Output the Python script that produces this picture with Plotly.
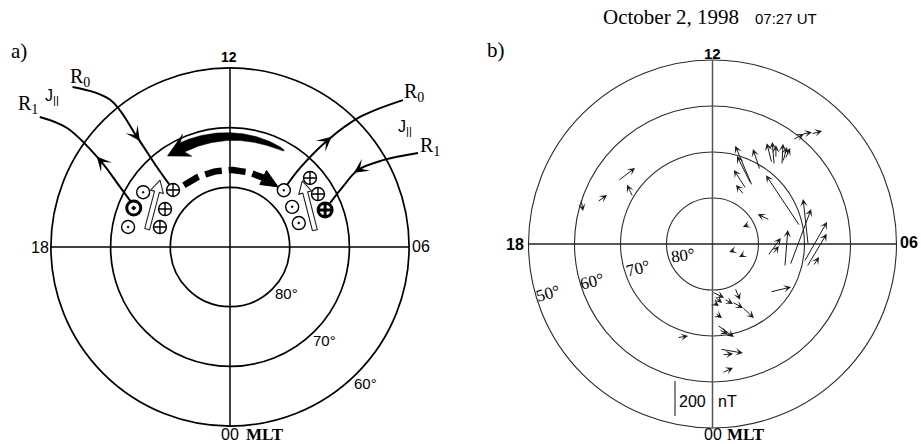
import numpy as np
import plotly.graph_objects as go

W, H = 921, 444
SERIF = "Liberation Serif"
SANS = "Liberation Sans"

# ---------------- panel b: ground magnetometer perturbations ----------------
# station position (MLT hours, magnetic latitude) and horizontal perturbation
# in the dial frame: dawn = toward 06 MLT, noon = toward 12 MLT (nT)
station_mlt = [9.49, 9.39, 9.21, 9.58, 9.47, 9.57, 9.25, 9.29, 9.30,
               9.71, 9.82, 9.91, 9.82, 9.82, 6.77,
               5.96, 4.99, 5.26, 5.09, 5.18, 4.83, 5.19, 5.37, 3.34,
               7.51, 7.87, 5.00, 4.86,
               1.81, 23.96, 0.11, 0.03, 0.79, 1.24, 1.67, 0.14, 0.21, 0.29, 0.27, 0.33, 0.28, 22.62,
               15.75, 16.67, 15.96, 16.74]
station_lat = [61.4, 59.2, 57.9, 68.2, 68.2, 66.8, 67.1, 66.5, 65.7,
               74.7, 74.5, 76.0, 77.3, 70.9, 70.6,
               69.2, 72.5, 69.7, 68.9, 67.6, 73.5, 77.7, 76.7, 73.7,
               76.5, 80.8, 84.9, 82.6,
               79.3, 79.6, 78.7, 77.4, 77.8, 76.7, 74.9, 75.0, 72.4, 71.3, 67.1, 65.8, 61.9, 68.2,
               65.3, 63.3, 69.9, 59.8]
db_dawn = [63, 57, 63, -29, -11, 0, 6, 23, 29,
           -97, -80, -69, -46, -40, -194,
           -29, 120, 131, 114, 34, 17, 74, 34, 120,
           -69, -40, -34, -34,
           29, 69, 46, 34, 51, 63, 69, 40, 97, 51, 131, 63, 63, 63,
           97, 57, -34, 11]
db_noon = [34, 11, 17, 114, 131, 74, 120, 86, 63,
           229, 160, 109, 57, 120, 291,
           263, 320, 229, 189, 51, 211, 103, 46, 29,
           34, -17, -11, -17,
           -69, -34, -40, -23, -29, -34, -63, -29, -69, -23, -23, 6, 29, 11,
           74, 40, 69, -69]
scale_nt = 200
lat_circles_b = [80, 70, 60, 50]

# ---------------- panel a: current / convection schematic ----------------
lat_circles_a = [80, 70, 60]
# field-aligned current symbols
fac_mlt = [15.00, 15.85, 16.53, 15.98, 16.94, 17.26, 9.10, 8.72, 8.07, 8.19, 7.42, 7.28]
fac_lat = [76.5, 72.8, 72.6, 77.4, 77.8, 72.6, 76.9, 72.3, 72.8, 77.6, 72.9, 77.8]
fac_sense = ["in", "out", "out", "in", "in", "out", "out", "in", "in", "out", "in", "out"]
fac_region = ["R0", "", "R1", "", "", "", "R0", "", "", "", "R1", ""]
# current paths, ordered along the current direction
path_r0_dusk_mlt = [14.97, 14.61, 14.68, 14.83, 14.97]
path_r0_dusk_lat = [52.4, 58.2, 65.9, 71.9, 76.1]
path_r1_dusk_mlt = [16.39, 16.09, 15.75, 15.59, 15.71]
path_r1_dusk_lat = [72.0, 69.0, 63.8, 56.2, 51.4]
path_r0_dawn_mlt = [9.16, 9.23, 9.17, 9.00, 8.69]
path_r0_dawn_lat = [75.9, 72.3, 65.7, 59.2, 52.0]
path_r1_dawn_mlt = [7.77, 7.97, 8.07, 7.87, 7.58]
path_r1_dawn_lat = [54.8, 60.5, 65.0, 68.6, 71.7]
# convection flow arcs (solid, dashed)
flow_lat = [71.5, 77.1]
flow_mlt_start = [10.05, 14.45]
flow_mlt_end = [14.30, 9.42]
# hollow arrows (base -> tip)
hollow_base_mlt = [17.19, 6.75]
hollow_base_lat = [75.8, 75.5]
hollow_tip_mlt = [15.09, 8.83]
hollow_tip_lat = [73.8, 73.6]


def to_xy(mlt, lat):
    """MLT / latitude -> dial plane (degrees of colatitude), 12 up, 06 right."""
    colat = 90.0 - np.asarray(lat, float)
    phi = np.deg2rad(np.asarray(mlt, float) * 15.0)
    return colat * np.sin(phi), -colat * np.cos(phi)


def P(xpx, ypx):
    return xpx / W, 1 - ypx / H


# dial placement: centre in pixels and pixels per degree
A_CX, A_CY, A_S = 230.0, 247.0, 5.97
B_CX, B_CY, B_S = 712.5, 244.0, 4.6
HALF = 0.5 * W

fig = go.Figure()
shapes = []
ann = []

# ---- panel a grid ----
for lat in lat_circles_a:
    c = 90 - lat
    shapes.append(dict(type="circle", xref="x", yref="y", x0=-c, y0=-c, x1=c, y1=c,
                       line=dict(color="black", width=1.7), layer="below"))
ca = 90 - min(lat_circles_a)
shapes.append(dict(type="line", xref="x", yref="y", x0=0, y0=-ca, x1=0, y1=ca,
                   line=dict(color="black", width=1.5), layer="below"))
shapes.append(dict(type="line", xref="x", yref="y", x0=-ca, y0=0, x1=ca, y1=0,
                   line=dict(color="black", width=1.5), layer="below"))

# ---- panel b grid ----
for lat in lat_circles_b:
    c = 90 - lat
    shapes.append(dict(type="circle", xref="x2", yref="y2", x0=-c, y0=-c, x1=c, y1=c,
                       line=dict(color="#2a2a2a", width=1.1), layer="below"))
cb = 90 - min(lat_circles_b)
shapes.append(dict(type="line", xref="x2", yref="y2", x0=0, y0=-cb, x1=0, y1=cb,
                   line=dict(color="#555", width=1.5), layer="below"))
shapes.append(dict(type="line", xref="x2", yref="y2", x0=-cb, y0=0, x1=cb, y1=0,
                   line=dict(color="#222", width=1.3), layer="below"))

# ---- panel a: convection flow ----
# solid tapering arc with barbed head
colat_c = 90 - flow_lat[0]
m0, m1 = flow_mlt_start[0], flow_mlt_end[0]
sgn = np.sign(m1 - m0)
m_end = m1 - sgn * 0.60
m_barb = m1 - sgn * 0.78
s = np.linspace(0, 1, 80)
m_sh = m0 + (m_end - m0) * s
w = 0.08 + 0.78 * np.sqrt(s)
ox, oy = to_xy(m_sh, 90 - (colat_c + w))
ix, iy = to_xy(m_sh, 90 - (colat_c - w))
bx1, by1 = to_xy([m_barb], [90 - (colat_c + 2.0)])
tx_, ty_ = to_xy([m1], [90 - colat_c])
bx2, by2 = to_xy([m_barb], [90 - (colat_c - 2.0)])
px_ = np.concatenate([ox, bx1, tx_, bx2, ix[::-1], ox[:1]])
py_ = np.concatenate([oy, by1, ty_, by2, iy[::-1], oy[:1]])
fig.add_trace(go.Scatter(x=px_, y=py_, mode="lines", fill="toself", fillcolor="black",
                         line=dict(color="black", width=0.5), hoverinfo="skip"))

# dashed arc with solid head
colat_d = 90 - flow_lat[1]
m0, m1 = flow_mlt_start[1], flow_mlt_end[1]
sgn = np.sign(m1 - m0)
m_hb = m1 - sgn * 0.88
m_line = np.linspace(m0, m_hb + sgn * 0.1, 80)
lx, ly = to_xy(m_line, np.full_like(m_line, flow_lat[1]))
fig.add_trace(go.Scatter(x=lx, y=ly, mode="lines",
                         line=dict(color="black", width=6.5, dash="17px,7px"), hoverinfo="skip"))
hx1, hy1 = to_xy([m_hb], [90 - (colat_d + 1.3)])
htx, hty = to_xy([m1], [flow_lat[1]])
hx2, hy2 = to_xy([m_hb], [90 - (colat_d - 1.3)])
fig.add_trace(go.Scatter(x=np.r_[hx1, htx, hx2, hx1], y=np.r_[hy1, hty, hy2, hy1], mode="lines",
                         fill="toself", fillcolor="black", line=dict(color="black", width=1),
                         hoverinfo="skip"))

# ---- panel a: hollow arrows ----
for bm, bl, tm, tl in zip(hollow_base_mlt, hollow_base_lat, hollow_tip_mlt, hollow_tip_lat):
    bx, by = to_xy(bm, bl)
    tx, ty = to_xy(tm, tl)
    d = np.array([tx - bx, ty - by])
    u = d / np.hypot(*d)
    n = np.array([-u[1], u[0]])
    b = np.array([bx, by])
    t = np.array([tx, ty])
    hb = t - u * 2.0
    pts = [b + n * 0.42, hb + n * 0.42, hb + n * 1.1, t, hb - n * 1.1, hb - n * 0.42,
           b - n * 0.42, b + n * 0.42]
    pts = np.array(pts)
    fig.add_trace(go.Scatter(x=pts[:, 0], y=pts[:, 1], mode="lines", fill="toself",
                             fillcolor="white", line=dict(color="#222", width=1.1),
                             hoverinfo="skip"))

# ---- panel a: current paths with arrowheads ----
paths = [(path_r0_dusk_mlt, path_r0_dusk_lat), (path_r1_dusk_mlt, path_r1_dusk_lat),
         (path_r0_dawn_mlt, path_r0_dawn_lat), (path_r1_dawn_mlt, path_r1_dawn_lat)]
for pm, pl in paths:
    x, y = to_xy(pm, pl)
    fig.add_trace(go.Scatter(x=x, y=y, mode="lines",
                             line=dict(color="black", width=2, shape="spline"), hoverinfo="skip"))
    k = 2
    d = np.array([x[k + 1] - x[k - 1], y[k + 1] - y[k - 1]])
    d = d / np.hypot(*d)
    ann.append(dict(x=x[k] + 0.8 * d[0], y=y[k] + 0.8 * d[1],
                    ax=x[k] - 0.6 * d[0], ay=y[k] - 0.6 * d[1],
                    xref="x", yref="y", axref="x", ayref="y", text="", showarrow=True,
                    arrowhead=3, arrowsize=1.2, arrowwidth=2, arrowcolor="black", standoff=0))

# ---- panel a: field-aligned current symbols ----
fx, fy = to_xy(fac_mlt, fac_lat)
for sense, sym in (("in", "circle-cross"), ("out", "circle-dot")):
    for main in (False, True):
        idx = [i for i in range(len(fac_mlt))
               if fac_sense[i] == sense and (fac_region[i] == "R1") == main]
        if not idx:
            continue
        fig.add_trace(go.Scatter(
            x=fx[idx], y=fy[idx], mode="markers", hoverinfo="skip",
            marker=dict(symbol=sym, size=14 if main else 13, color="white",
                        line=dict(color="black", width=3 if main else 1.4))))

# ---- panel b: perturbation vectors ----
NT_PER_DEG = scale_nt / 7.6
sx, sy = to_xy(station_mlt, station_lat)
ex = sx + np.asarray(db_dawn, float) / NT_PER_DEG
ey = sy + np.asarray(db_noon, float) / NT_PER_DEG
for x0, y0, x1, y1 in zip(sx, sy, ex, ey):
    ann.append(dict(x=x1, y=y1, ax=x0, ay=y0, xref="x2", yref="y2", axref="x2", ayref="y2",
                    text="", showarrow=True, arrowhead=3, arrowsize=1.25, arrowwidth=1.0,
                    arrowcolor="#1a1a1a", standoff=0))

# scale bar
bar_x, bar_top = -8.15, -29.8
shapes.append(dict(type="line", xref="x2", yref="y2", x0=bar_x, y0=bar_top,
                   x1=bar_x, y1=bar_top - scale_nt / NT_PER_DEG,
                   line=dict(color="#444", width=1.3)))


# ---- text ----
def label(text, xpx, ypx, size, family=SANS, xanchor="center", angle=0, color="black"):
    x, y = P(xpx, ypx)
    ann.append(dict(x=x, y=y, xref="paper", yref="paper", text=text, showarrow=False,
                    xanchor=xanchor, yanchor="middle", textangle=angle,
                    font=dict(family=family, size=size, color=color)))


label("a)", 19, 51, 21, SERIF)
label("<b>12</b>", 229, 57, 14)
label("18", 40, 247, 16)
label("06", 421, 246, 16)
label("00", 230, 434, 16)
label("<b>MLT</b>", 265, 434, 17, SERIF)
label("80°", 286, 293, 15)
label("70°", 324, 340, 15)
label("60°", 365, 383, 15)
label("R<sub>1</sub>", 28, 104, 20, SERIF)
label("J<sub>||</sub>", 52, 96, 16)
label("R<sub>0</sub>", 80, 77, 20, SERIF)
label("R<sub>0</sub>", 414, 93, 20, SERIF)
label("J<sub>||</sub>", 405, 127, 16)
label("R<sub>1</sub>", 430, 146, 20, SERIF)

label("October 2, 1998", 671, 17, 21, SERIF)
label("07:27 UT", 786, 18, 15)
label("b)", 496, 50, 21, SERIF)
label("<b>12</b>", 712, 54, 15)
label("<b>18</b>", 515, 244, 16)
label("<b>06</b>", 909, 243, 16)
label("00", 713, 434, 16)
label("<b>MLT</b>", 746, 434, 17, SERIF)
label("80°", 683, 255, 17, SERIF, angle=-8)
label("70°", 638, 268, 17, SERIF, angle=-14)
label("60°", 592, 281, 17, SERIF, angle=-14)
label("50°", 548, 293, 17, SERIF, angle=-16)
label("200", 708, 401, 16, xanchor="right")
label("nT", 716, 401, 16, xanchor="left")

ax_common = dict(visible=False, showgrid=False, zeroline=False, fixedrange=True)
fig.update_layout(
    width=W, height=H, autosize=False,
    margin=dict(l=0, r=0, t=0, b=0, pad=0),
    paper_bgcolor="white", plot_bgcolor="white",
    showlegend=False,
    xaxis=dict(domain=[0, 0.5], range=[(0 - A_CX) / A_S, (HALF - A_CX) / A_S], **ax_common),
    yaxis=dict(domain=[0, 1], range=[(A_CY - H) / A_S, A_CY / A_S], **ax_common),
    xaxis2=dict(domain=[0.5, 1], range=[(HALF - B_CX) / B_S, (W - B_CX) / B_S],
                anchor="y2", **ax_common),
    yaxis2=dict(domain=[0, 1], range=[(B_CY - H) / B_S, B_CY / B_S], anchor="x2", **ax_common),
    shapes=shapes,
    annotations=ann,
)

fig.write_html("out.html")
